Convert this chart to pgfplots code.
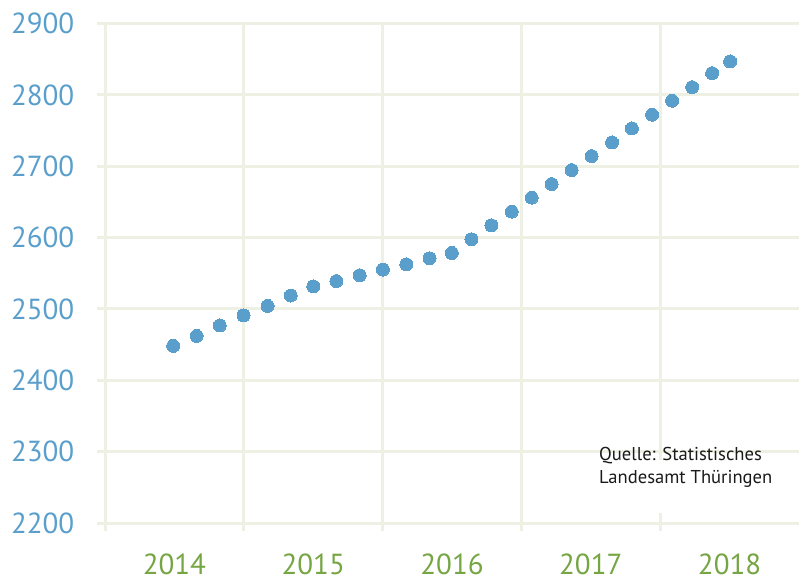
\documentclass[border=0pt]{standalone}
\usepackage{pgfplots}
\pgfplotsset{compat=1.18}
\usepackage{fontspec}
\setmainfont{PT Sans}
\definecolor{gridc}{RGB}{238,240,228}
\definecolor{dotc}{RGB}{90,159,203}
\definecolor{ylab}{RGB}{90,159,204}
\definecolor{xlab}{RGB}{118,165,67}
\begin{document}
\begin{tikzpicture}
\begin{axis}[
  set layers=standard,
  scale only axis, width=694pt, height=499.5pt,
  xmin=0, xmax=5, ymin=2200, ymax=2900,
  axis x line=bottom, axis y line=left,
  axis line style={draw=none,-},
  /pgf/number format/assume math mode=true,
  /pgf/number format/set thousands separator={},
  ytick={2200,2300,...,2900},
  xtick={0,1,2,3,4}, xticklabels={},
  xmajorgrids=true, ymajorgrids=true,
  grid style={gridc, line width=3pt},
  tick style={gridc, line width=3pt},
  tick align=outside,
  major tick length=7.5pt,
  extra x ticks={0.5,1.5,2.5,3.5,4.5},
  extra x tick labels={2014,2015,2016,2017,2018},
  extra x tick style={grid=none, tick style={draw=none}},
  yticklabel style={font=\fontsize{29}{30}\selectfont, text=ylab, anchor=east, inner sep=0pt, xshift=-23pt},
  xticklabel style={font=\fontsize{29}{30}\selectfont, text=xlab, anchor=north, inner sep=0pt, yshift=-23pt},
  clip=false,
]
\addplot[only marks, mark=*, mark size=6.5pt, mark options={fill=dotc, draw=dotc, line width=0pt}] coordinates {
(0.491,2448.2) (0.660,2462.2) (0.827,2476.8) (0.998,2490.8) (1.171,2504.2)
(1.338,2518.8) (1.501,2531.5) (1.667,2539.1) (1.835,2547.2) (2.002,2555.2)
(2.171,2562.6) (2.338,2571.0) (2.499,2578.4) (2.640,2597.6) (2.784,2617.2)
(2.930,2636.4) (3.074,2656.0) (3.218,2675.0) (3.362,2694.6) (3.506,2714.2)
(3.653,2733.4) (3.796,2753.0) (3.942,2772.2) (4.086,2791.8) (4.230,2810.8)
(4.374,2830.4) (4.504,2846.8)
};
\end{axis}
\fill[white] (485pt,10pt) rectangle (688pt,63pt);
\node[anchor=base west, align=left, inner sep=0pt, font=\fontsize{18.6}{23}\selectfont, text={rgb,255:red,26;green,26;blue,26}] at (494pt,40pt) {Quelle: Statistisches\\Landesamt Thüringen};
\pgfresetboundingbox
\useasboundingbox (-105pt,-60pt) rectangle (694pt,523pt);
\end{tikzpicture}
\end{document}
